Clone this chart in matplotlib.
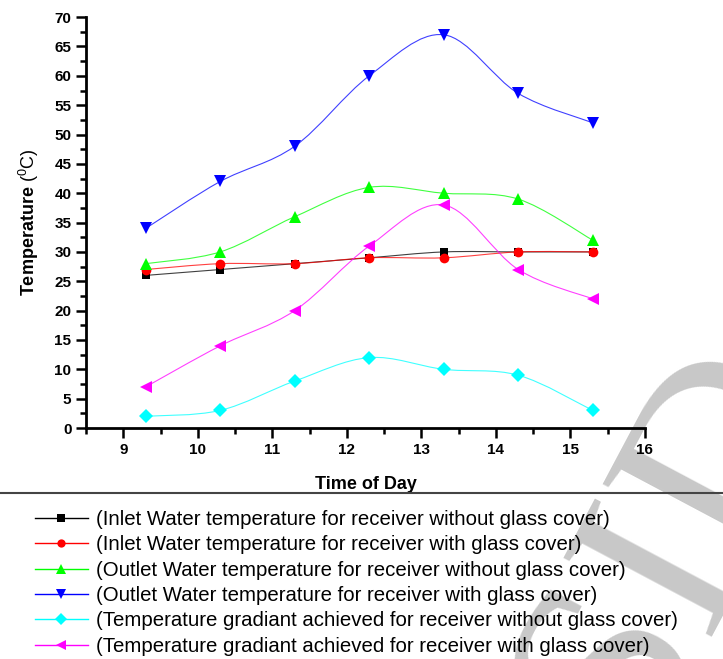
import numpy as np
import matplotlib
matplotlib.use("Agg")
import matplotlib.pyplot as plt
from matplotlib.path import Path
from matplotlib.patches import PathPatch
from matplotlib.lines import Line2D

plt.rcParams.update({
    "font.family": ["Liberation Sans", "DejaVu Sans"],
    "mathtext.fontset": "custom",
    "mathtext.rm": "Liberation Sans",
    "mathtext.bf": "Liberation Sans:bold",
    "mathtext.it": "Liberation Sans:italic",
})

# ---- data ----
hours = [9.3, 10.3, 11.3, 12.3, 13.3, 14.3, 15.3]
inlet_no_glass = [26, 27, 28, 29, 30, 30, 30]
inlet_glass = [27, 28, 28, 29, 29, 30, 30]
outlet_no_glass = [28, 30, 36, 41, 40, 39, 32]
outlet_glass = [34, 42, 48, 60, 67, 57, 52]
grad_no_glass = [2, 3, 8, 12, 10, 9, 3]
grad_glass = [7, 14, 20, 31, 38, 27, 22]

labels = [
    "(Inlet Water temperature for receiver without glass cover)",
    "(Inlet Water temperature for receiver with glass cover)",
    "(Outlet Water temperature for receiver without glass cover)",
    "(Outlet Water temperature for receiver with glass cover)",
    "(Temperature gradiant achieved for receiver without glass cover)",
    "(Temperature gradiant achieved for receiver with glass cover)",
]
series = [inlet_no_glass, inlet_glass, outlet_no_glass, outlet_glass,
          grad_no_glass, grad_glass]
colors = ["#000000", "#ff0000", "#00ff00", "#0000ff", "#00ffff", "#ff00ff"]
markers = ["s", "o", "^", "v", "D", "<"]
msizes = [6, 7, 9, 9, 7.5, 9]


def spline_path(x, y):
    # smooth curve through the points (Catmull-Rom as cubic Bezier segments)
    p = np.column_stack([x, y]).astype(float)
    ext = np.vstack([p[0], p, p[-1]])
    verts = [p[0]]
    codes = [Path.MOVETO]
    for i in range(len(p) - 1):
        p0, p1, p2, p3 = ext[i], ext[i + 1], ext[i + 2], ext[i + 3]
        verts += [p1 + (p2 - p0) / 6, p2 - (p3 - p1) / 6, p2]
        codes += [Path.CURVE4] * 3
    return Path(verts, codes)


fig = plt.figure(figsize=(7.23, 6.59), dpi=100)

# watermark (behind everything)
fig.text(0.855, -0.035, "of SID", rotation=62, fontsize=185,
         family="Liberation Serif", color="#c8c8c8", ha="center",
         va="center", zorder=-1)

ax = fig.add_axes([0.119, 0.3505, 0.773, 0.6235])
ax.set_facecolor("none")

handles = []
for ys, c, m, ms, lab in zip(series, colors, markers, msizes, labels):
    ax.add_patch(PathPatch(spline_path(hours, ys), fill=False,
                           edgecolor=c, lw=0.8, alpha=0.75, zorder=2))
    ax.plot(hours, ys, ls="none", marker=m, ms=ms, color=c,
            markeredgewidth=0, zorder=3)
    handles.append(Line2D([], [], color=c, lw=1.0, marker=m, ms=ms * 0.85,
                          markeredgewidth=0))

ax.set_xlim(8.52, 16)
ax.set_ylim(0, 70)
ax.set_xticks(range(9, 17))
ax.set_xticks(np.arange(8.5, 16.01, 0.5), minor=True)
ax.set_yticks(range(0, 71, 5))
ax.set_yticks(np.arange(0, 70.1, 2.5), minor=True)

for s in ["top", "right"]:
    ax.spines[s].set_visible(False)
for s in ["left", "bottom"]:
    ax.spines[s].set_linewidth(2)

ax.tick_params(which="major", direction="out", length=7, width=1.8,
               labelsize=11)
ax.tick_params(which="minor", direction="out", length=4, width=1.8)
for t in ax.get_xticklabels() + ax.get_yticklabels():
    t.set_fontweight("bold")

ax.set_xlabel("Time of Day", fontsize=13, fontweight="bold", labelpad=14)
ax.set_ylabel(r"$\mathbf{Temperature}$ ($^{0}$C)", fontsize=13, labelpad=10)

# separator line above the legend
fig.add_artist(Line2D([0, 1], [0.252, 0.252], transform=fig.transFigure,
                      color="#444444", lw=1.5))

fig.legend(handles, labels, loc="upper left", bbox_to_anchor=(0.048, 0.226),
           frameon=False, fontsize=14.7, handlelength=2.6, handletextpad=0.4,
           labelspacing=0.31, borderpad=0, borderaxespad=0)

fig.savefig("out.png", dpi=100)
